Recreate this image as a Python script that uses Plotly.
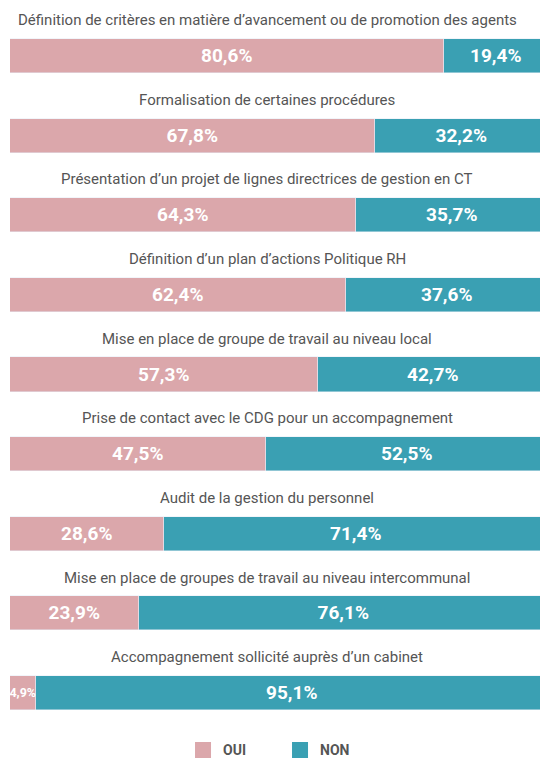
import plotly.graph_objects as go

categories = [
    "Définition de critères en matière d’avancement ou de promotion des agents",
    "Formalisation de certaines procédures",
    "Présentation d’un projet de lignes directrices de gestion en CT",
    "Définition d’un plan d’actions Politique RH",
    "Mise en place de groupe de travail au niveau local",
    "Prise de contact avec le CDG pour un accompagnement",
    "Audit de la gestion du personnel",
    "Mise en place de groupes de travail au niveau intercommunal",
    "Accompagnement sollicité auprès d’un cabinet",
]
oui = [80.6, 67.8, 64.3, 62.4, 57.3, 47.5, 28.6, 23.9, 4.9]
non = [19.4, 32.2, 35.7, 37.6, 42.7, 52.5, 71.4, 76.1, 95.1]
series_names = ["OUI", "NON"]

PINK = "#DBA7AB"
TEAL = "#3AA0B3"
FONT = "Roboto"

def fmt(v):
    return f"{v:.1f}%".replace(".", ",")

idx = list(range(len(categories)))

fig = go.Figure()
for name, vals, col in zip(series_names, [oui, non], [PINK, TEAL]):
    fig.add_trace(go.Bar(
        y=idx, x=vals, orientation="h", name=name, marker_color=col,
        text=[fmt(v) for v in vals], textposition="inside", insidetextanchor="middle",
        constraintext="none", textangle=0, cliponaxis=False,
        textfont=dict(family=FONT, color="white",
                      size=[19 if v > 10 else 12.5 for v in vals], weight="bold"),
        width=0.43, hoverinfo="skip", showlegend=False,
    ))
# legend entries
for name, col in zip(series_names, [PINK, TEAL]):
    fig.add_trace(go.Scatter(
        x=[None], y=[None], mode="markers", name=name,
        marker=dict(symbol="square", size=20, color=col), showlegend=True,
    ))

for i, c in zip(idx, categories):
    fig.add_annotation(x=0.4777, xref="paper", y=i - 0.45, yref="y", text=c,
                       showarrow=False, font=dict(family=FONT, size=15, color="#555555"),
                       xanchor="center", yanchor="middle")

fig.update_layout(
    width=540, height=750,
    barmode="stack", bargap=0,
    margin=dict(l=2, r=0, t=0, b=28, autoexpand=False),
    paper_bgcolor="white", plot_bgcolor="white",
    xaxis=dict(range=[0, 100], visible=False, fixedrange=True),
    yaxis=dict(range=[8.465, -0.603], visible=False, fixedrange=True),
    showlegend=True,
    legend=dict(orientation="h", x=0.3216, xanchor="left", y=-0.006, yanchor="top",
                traceorder="normal",
                font=dict(family=FONT, size=14, color="#555555", weight="bold"),
                itemwidth=30, entrywidth=52, entrywidthmode="pixels",
                bgcolor="rgba(0,0,0,0)"),
    font=dict(family=FONT),
)

fig.write_html("out.html")
